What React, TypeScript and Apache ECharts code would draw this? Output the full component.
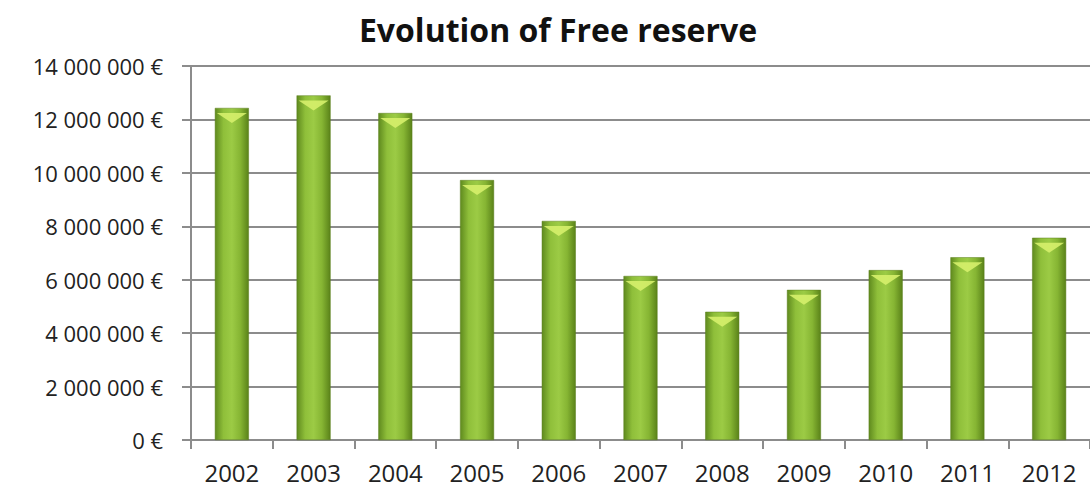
import React, { useEffect, useRef } from "react";
import * as echarts from "echarts";

const years = ["2002", "2003", "2004", "2005", "2006", "2007", "2008", "2009", "2010", "2011", "2012"];
const freeReserve = [12430000, 12900000, 12240000, 9730000, 8200000, 6140000, 4800000, 5620000, 6360000, 6840000, 7570000];
const yTicks = [0, 2000000, 4000000, 6000000, 8000000, 10000000, 12000000, 14000000];

function fmt(v: number): string {
  const s = Math.round(v).toString().replace(/\B(?=(\d{3})+(?!\d))/g, " ");
  return s + " €";
}

export default function App() {
  const ref = useRef<HTMLDivElement>(null);
  useEffect(() => {
    if (!ref.current) return;
    const chart = echarts.init(ref.current, null, { renderer: "svg" });
    const barGrad = new echarts.graphic.LinearGradient(0, 0, 1, 0, [
      { offset: 0, color: "#5f8a1e" },
      { offset: 0.25, color: "#8fbf3a" },
      { offset: 0.5, color: "#9ccb45" },
      { offset: 0.75, color: "#86b533" },
      { offset: 1, color: "#5a8219" },
    ]);
    const font = "'Open Sans', sans-serif";
    chart.setOption({
      animation: false,
      backgroundColor: "#ffffff",
      title: {
        text: "Evolution of Free reserve",
        left: 553,
        textAlign: "center",
        top: 8,
        textStyle: { fontFamily: font, fontWeight: "bold", fontSize: 32, color: "#111" },
      },
      grid: { left: 191, top: 66, width: 908, bottom: 49, containLabel: false },
      xAxis: {
        type: "category",
        data: years,
        axisLine: { lineStyle: { color: "#8c8c8c", width: 2 } },
        axisTick: { show: true, alignWithLabel: false, length: 9, lineStyle: { color: "#8c8c8c", width: 2 } },
        axisLabel: { color: "#222", fontSize: 24, fontFamily: font, margin: 20 },
      },
      yAxis: {
        type: "value",
        min: yTicks[0],
        max: yTicks[yTicks.length - 1],
        interval: 2000000,
        axisLine: { show: true, lineStyle: { color: "#8c8c8c", width: 2 } },
        axisTick: { show: true, length: 9, lineStyle: { color: "#8c8c8c", width: 2 } },
        splitLine: { lineStyle: { color: "#8c8c8c", width: 2 } },
        axisLabel: {
          color: "#222",
          fontSize: 22,
          fontFamily: font,
          margin: 28,
          formatter: (v: number) => fmt(v),
        },
      },
      series: [
        {
          type: "bar",
          data: freeReserve,
          barWidth: 34,
          itemStyle: { color: barGrad, borderColor: "#5a7f1c", borderWidth: 0.5 },
        },
        {
          type: "pictorialBar",
          data: freeReserve,
          symbol: "triangle",
          symbolRotate: 180,
          symbolSize: [30, 10],
          symbolPosition: "end",
          symbolOffset: [0, 5],
          itemStyle: { color: "#d6f06c", opacity: 0.9 },
          z: 3,
          silent: true,
        },
      ],
    });
    return () => chart.dispose();
  }, []);
  return <div ref={ref} style={{ width: 1090, height: 489, position: "absolute", left: 0, top: 0 }} />;
}
